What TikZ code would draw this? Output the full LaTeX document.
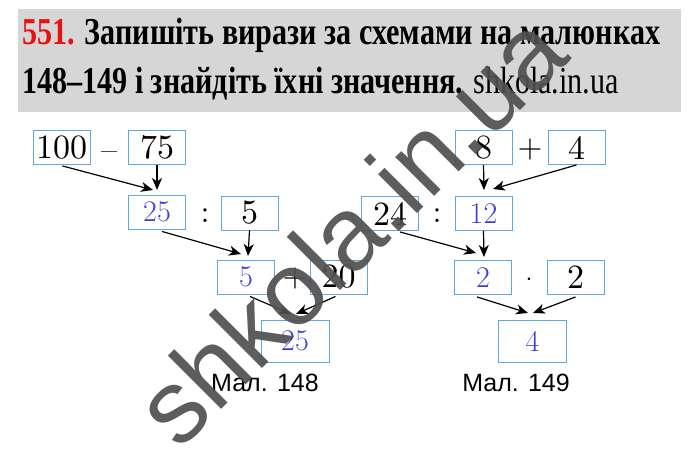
\documentclass[tikz,border=0pt]{standalone}
\usepackage{fontspec}
\usetikzlibrary{arrows.meta}
\newfontfamily\timesfont{Liberation Serif}
\newfontfamily\arialfont{Liberation Sans}
\newfontfamily\cmten{lmroman10-regular}[Extension=.otf]
\definecolor{boxblue}{HTML}{5FA8DC}
\definecolor{numblue}{HTML}{3C3CDC}
\definecolor{numred}{HTML}{E81010}
\definecolor{bandgray}{HTML}{D6D6D6}
\definecolor{wmgray}{HTML}{505050}
\newsavebox\lineonebox
\begin{document}
\sbox\lineonebox{\timesfont\bfseries\fontsize{38}{38}\selectfont\textcolor{numred}{551.} Запишіть вирази за схемами на малюнках}
\begin{tikzpicture}[x=1pt,y=-1pt,
  bx/.style={draw=boxblue, line width=0.9pt, minimum width=57pt, minimum height=34pt, inner sep=0pt},
  rbx/.style={bx, minimum width=68pt, minimum height=42pt},
  num/.style={font=\cmten\fontsize{34}{34}\selectfont, text=black},
  res/.style={font=\fontsize{30}{30}\selectfont, text=numblue},
  op/.style={font=\cmten\fontsize{32}{32}\selectfont, inner sep=0pt, anchor=base},
  arr/.style={-{Stealth[length=12pt,width=10pt,inset=3.5pt]}, line width=1.2pt},
  capt/.style={font=\arialfont\fontsize{25}{25}\selectfont, inner sep=0pt}]
\useasboundingbox (0,0) rectangle (700,468);
\fill[white] (0,0) rectangle (700,468);
% header
\fill[bandgray] (18,9) rectangle (681,112);
\pgfmathsetmacro\hsc{638/(\the\wd\lineonebox)}
\node[anchor=base west, inner sep=0pt] (l1) at (22,45) {\scalebox{\hsc}[1]{\usebox\lineonebox}};
\node[anchor=base west, inner sep=0pt] (l2) at (22,94) {\scalebox{\hsc}[1]{\timesfont\fontsize{38}{38}\selectfont\textbf{148–149 і знайдіть їхні значення.} shkola.in.ua}};
% figure 148
\node[bx, num] (a100) at (61.5,147.5) {100};
\node[op] (am) at (109,160) {–};
\node[bx, num] (a75) at (157,147.5) {75};
\node[bx, res] (a25) at (157,212) {25};
\node[op] (ad) at (205,222) {\textbf{:}};
\node[bx, num] (a5) at (249.5,213) {5};
\node[bx, res] (c5) at (246,277) {5};
\node[op] (ap) at (295,286) {+};
\node[bx, num] (a20) at (338.5,277) {20};
\node[rbx, res] (r25) at (295,341) {25};
\node[capt] (m148) at (265,383) {Мал. 148};
\coordinate (t1) at (153,190);
\coordinate (t2) at (157,190);
\coordinate (t3) at (241,254);
\coordinate (t4) at (248,256);
\coordinate (t5) at (291,314);
\coordinate (t6) at (296,314);
\path (a100.south) ++(1,1) coordinate (s1);
\path (a25.south) ++(5,2) coordinate (s3);
\path (c5.south) ++(4,2) coordinate (s5);
\path (a20.south) ++(-3,2) coordinate (s6);
\draw[arr] (s1) -- (t1);
\draw[arr] (a75.south) -- (t2);
\draw[arr] (s3) -- (t3);
\draw[arr] (a5.south) -- (t4);
\draw[arr] (s5) -- (t5);
\draw[arr] (s6) -- (t6);
% figure 149
\node[bx, num] (b8) at (483.5,147.5) {8};
\node[op] (bp) at (530,157) {+};
\node[bx, num] (b4) at (576.5,147.5) {4};
\node[bx, num] (b24) at (390,213.5) {24};
\node[op] (bd) at (437,222) {\textbf{:}};
\node[bx, res] (b12) at (483.5,213.5) {12};
\node[bx, res] (b2) at (483,277.5) {2};
\node[op] (bm) at (529,285) {$\cdot$};
\node[bx, num] (c2) at (575.5,277.5) {2};
\node[rbx, res] (r4) at (532.5,341.5) {4};
\node[capt] (m149) at (516,383) {Мал. 149};
\coordinate (u1) at (484,190);
\coordinate (u2) at (493,189);
\coordinate (u3) at (476,253);
\coordinate (u4) at (484,257);
\coordinate (u5) at (528,313);
\coordinate (u6) at (533,313);
\path (b24.south) ++(10,1) coordinate (v3);
\path (b2.south) ++(-6,2) coordinate (v5);
\path (c2.south) ++(0,2) coordinate (v6);
\draw[arr] (b8.south) -- (u1);
\draw[arr] (b4.south) -- (u2);
\draw[arr] (v3) -- (u3);
\draw[arr] (b12.south) -- (u4);
\draw[arr] (v5) -- (u5);
\draw[arr] (v6) -- (u6);
% watermark
\node[font=\arialfont\fontsize{104}{104}\selectfont, text=wmgray, rotate=45, anchor=base, inner sep=0pt, text opacity=0.92] (wm) at (376,255) {shkola.in.ua};
\end{tikzpicture}
\end{document}
